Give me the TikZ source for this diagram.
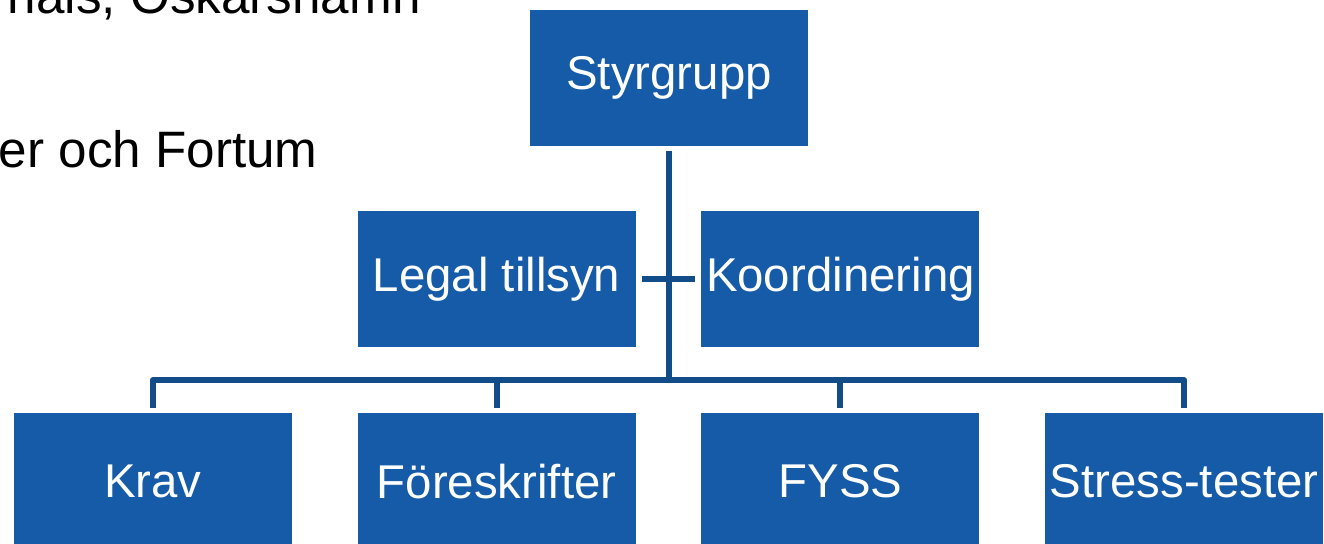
\documentclass[tikz,border=0pt]{standalone}
\usepackage{fontspec}
\setmainfont{Liberation Sans}
\usetikzlibrary{positioning}
\definecolor{boxblue}{RGB}{21,91,167}
\definecolor{lineblue}{RGB}{19,77,137}

\begin{document}
\begin{tikzpicture}[x=0.5pt,y=-0.5pt,node distance=32.5pt,
    every node/.style={inner sep=0pt},
    box/.style={rectangle,fill=boxblue,text=white,minimum width=139pt,
      minimum height=68pt,font=\fontsize{23.7}{28}\selectfont},
    link/.style={draw=lineblue,line width=3pt,line join=round}]
  \useasboundingbox (0,0) rectangle (1324,543);
  \clip (0,0) rectangle (1324,543);
  % text left over from the slide
  \node[anchor=base east,font=\fontsize{25.6}{30}\selectfont] (slide1) at (421,13) {nals, Oskarshamn};
  \node[anchor=base east,font=\fontsize{25.6}{30}\selectfont] (slide2) at (318,167) {er och Fortum};
  % boxes
  \node[box] (styr) at (669,77.5) {Styrgrupp};
  \node[box,below left=32.5pt and 16.5pt of styr.south] (legal) {Legal tillsyn};
  \node[box,right=of legal] (koord) {Koordinering};
  \node[box,below=of legal] (fore) {Föreskrifter};
  \node[box,left=of fore] (krav) {Krav};
  \node[box,below=of koord] (fyss) {FYSS};
  \node[box,right=of fyss] (stress) {Stress-tester};
  % connectors
  \path (legal.south) -- (fore.north) coordinate[midway] (mid);
  \coordinate (bus) at (styr.south |- mid);
  \draw[link,shorten <=2.5pt] (styr.south) -- (bus);
  \draw[link,shorten <=3pt,shorten >=3pt] (legal.east) -- (koord.west);
  \draw[link,shorten <=2.5pt,shorten >=2.5pt] (krav.north) |- (bus) -| (stress.north);
  \draw[link,shorten <=2.5pt] (fore.north) -- (fore.north |- bus);
  \draw[link,shorten <=2.5pt] (fyss.north) -- (fyss.north |- bus);
\end{tikzpicture}
\end{document}
